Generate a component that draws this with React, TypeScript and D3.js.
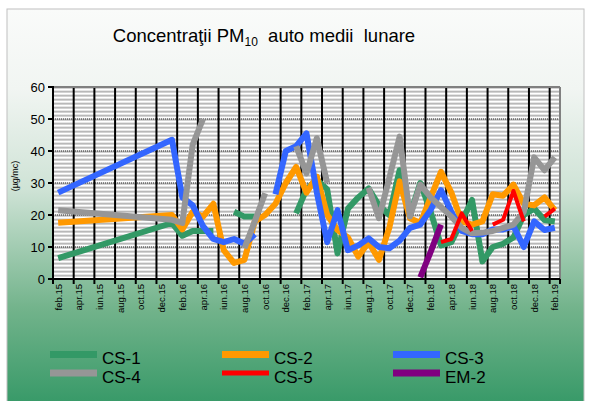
import React from 'react'
import * as d3 from 'd3'

// months on the category axis
const months = [
  'feb.15', 'mar.15', 'apr.15', 'mai.15', 'iun.15', 'iul.15', 'aug.15', 'sep.15', 'oct.15', 'noi.15', 'dec.15',
  'ian.16', 'feb.16', 'mar.16', 'apr.16', 'mai.16', 'iun.16', 'iul.16', 'aug.16', 'sep.16', 'oct.16', 'noi.16', 'dec.16',
  'ian.17', 'feb.17', 'mar.17', 'apr.17', 'mai.17', 'iun.17', 'iul.17', 'aug.17', 'sep.17', 'oct.17', 'noi.17', 'dec.17',
  'ian.18', 'feb.18', 'mar.18', 'apr.18', 'mai.18', 'iun.18', 'iul.18', 'aug.18', 'sep.18', 'oct.18', 'noi.18', 'dec.18',
  'ian.19', 'feb.19',
]
const shownMonths = [
  'feb.15', 'apr.15', 'iun.15', 'aug.15', 'oct.15', 'dec.15',
  'feb.16', 'apr.16', 'iun.16', 'aug.16', 'oct.16', 'dec.16',
  'feb.17', 'apr.17', 'iun.17', 'aug.17', 'oct.17', 'dec.17',
  'feb.18', 'apr.18', 'iun.18', 'aug.18', 'oct.18', 'dec.18', 'feb.19',
]
const yTicks = [0, 10, 20, 30, 40, 50, 60]

// n = no value (line breaks), s = month not plotted (line runs over it)
const n = null
const s = undefined

const cs1 = [6.5, s, s, s, s, s, s, s, s, s, s, 17.5, 13.5, 15, 15, 15, n, 21, 19.5, 19.5, n, n, n, 20.5,
  28, 31, 28, 8, 22, 25.5, 28.3, 23, 20, 34, 20, 30, 21, 10.5, 11.5, 18, 24.7, 5.5, 10, 11, 13, 20, 22, 18.4, 18]
const cs2 = [17.6, s, s, s, s, s, s, s, s, s, s, 20, 15.5, 21, 19.5, 23.5, 9, 5, 6, 18, 20, 23.5, 30, 35,
  27, 32, 20, 15.3, 13, 7, 11.5, 6, 16, 30.5, 19, 17.5, 25.5, 33.5, 27, 18, 17, 18, 26.5, 26, 29.5, 23.5, 23, 25.5, 21.5]
const cs3 = [27, s, s, s, s, s, s, s, s, s, s, 43.5, 25.5, 23, 16.5, 12.5, 11.5, 12.5, 11, 14, n, 26.5, 40, 41.5,
  45.5, 27, 11.5, 21.5, 9, 10.5, 12.7, 10, 9.6, 12, 16, 17, 21.6, 27.8, 21, 15, 14, 14, 15.5, 15.5, 16.5, 10, 18, 15.3, 16]
const cs4 = [21.5, s, s, s, s, s, s, s, s, s, s, 18.5, 17.5, 42, 50, n, n, n, 9.6, 18, 26.8, n, n, 41.5,
  33, 44, 30, n, n, n, 28.5, 19, 31.5, 44.5, 19.5, 29.5, 25.5, 22.5, 19.5, 16, 14.3, 14.5, 15, 16, 17, 21, 38, 34, 38]
const cs5 = [n, n, n, n, n, n, n, n, n, n, n, n, n, n, n, n, n, n, n, n, n, n, n, n,
  n, n, n, n, n, n, n, n, n, n, n, n, n, 11.5, 12.5, 20.5, 15, n, 17, 18.5, 27.5, 18, n, 19.5, 22]
const em2 = [n, n, n, n, n, n, n, n, n, n, n, n, n, n, n, n, n, n, n, n, n, n, n, n,
  n, n, n, n, n, n, n, n, n, n, n, 0.5, 8.5, 17, n, n, n, n, n, n, n, n, n, n, n]

const seriesNames = ['CS-1', 'CS-2', 'CS-3', 'CS-4', 'CS-5', 'EM-2']
const seriesValues = [cs1, cs2, cs3, cs4, cs5, em2]
const colors = ['#339966', '#ff9900', '#3366ff', '#969696', '#ff0000', '#800080']
const widths = [6, 6, 6, 6, 4, 6]

const W = 590
const H = 401
const plot = { left: 53, right: 560, top: 87, bottom: 279 }

export default function App() {
  const x = d3.scaleBand<string>().domain(months).range([plot.left, plot.right]).padding(0)
  const y = d3.scaleLinear().domain([0, 60]).range([plot.bottom, plot.top])
  const cx = (m: string) => (x(m) as number) + x.bandwidth() / 2

  const line = d3
    .line<{ m: string; v: number | null }>()
    .defined(d => d.v !== null)
    .x(d => cx(d.m))
    .y(d => y(d.v as number))

  // grid lines sit on the boundary between every second month
  const gridX = shownMonths.map(m => x(m) as number)

  const legendCols = [50, 222, 393]
  const legendRows = [354.5, 373]

  return (
    <svg
      width={W}
      height={H}
      style={{ position: 'absolute', left: 0, top: 0, fontFamily: 'Arial, "Liberation Sans", sans-serif' }}
    >
      <defs>
        <linearGradient id="bg" x1="0" y1="0" x2="0" y2="1">
          <stop offset="0" stopColor="#fafbfa" />
          <stop offset="0.2" stopColor="#f1f5f2" />
          <stop offset="0.45" stopColor="#cfe3d6" />
          <stop offset="0.75" stopColor="#72b38b" />
          <stop offset="1" stopColor="#349866" />
        </linearGradient>
        <pattern id="stripes" x="0" y={plot.top} width="8" height="4" patternUnits="userSpaceOnUse">
          <rect x="0" y="0" width="8" height="1" fill="#b8b8b8" />
          <rect x="0" y="1" width="8" height="1" fill="#d2d2d2" />
          <rect x="0" y="2" width="8" height="1" fill="#ffffff" />
          <rect x="0" y="3" width="8" height="1" fill="#e6e6e6" />
        </pattern>
        <clipPath id="plotClip">
          <rect x={plot.left} y={plot.top - 4} width={plot.right - plot.left} height={plot.bottom - plot.top + 4} />
        </clipPath>
      </defs>

      <rect x={7} y={9} width={577} height={400} fill="url(#bg)" stroke="#c0c0c0" strokeWidth={1} />

      <text x={264} y={42} textAnchor="middle" fontSize={18.5} style={{ whiteSpace: 'pre' }}>
        Concentraţii PM<tspan fontSize={12} dy={4}>10</tspan>
        <tspan dy={-4}>{'  auto medii  lunare'}</tspan>
      </text>

      {/* plot area */}
      <rect x={plot.left} y={plot.top} width={plot.right - plot.left} height={plot.bottom - plot.top} fill="url(#stripes)" />

      {yTicks.slice(1, -1).map(t => (
        <line key={t} x1={plot.left} x2={plot.right} y1={y(t)} y2={y(t)} stroke="#333" strokeWidth={1} strokeDasharray="1,1" />
      ))}
      {gridX.slice(1).map((gx, i) => (
        <line key={i} x1={gx} x2={gx} y1={plot.top} y2={plot.bottom} stroke="#000" strokeWidth={2} />
      ))}
      <line x1={plot.left} x2={plot.right} y1={plot.top} y2={plot.top} stroke="#808080" strokeWidth={2} />
      <line x1={plot.right} x2={plot.right} y1={plot.top} y2={plot.bottom} stroke="#808080" strokeWidth={2} />

      {/* series */}
      <g clipPath="url(#plotClip)">
        {seriesValues.map((vals, k) => {
          const pts = months
            .map((m, i) => ({ m, v: vals[i] as number | null | undefined }))
            .filter(d => d.v !== undefined) as { m: string; v: number | null }[]
          return (
            <path
              key={seriesNames[k]}
              d={line(pts) || ''}
              fill="none"
              stroke={colors[k]}
              strokeWidth={widths[k]}
              strokeLinejoin="round"
            />
          )
        })}
      </g>

      {/* axes */}
      <line x1={plot.left} x2={plot.left} y1={plot.top - 1} y2={plot.bottom + 1} stroke="#000" strokeWidth={2} />
      <line x1={plot.left - 1} x2={plot.right} y1={plot.bottom} y2={plot.bottom} stroke="#000" strokeWidth={2} />
      {yTicks.map(t => (
        <g key={t}>
          <line x1={plot.left - 5} x2={plot.left} y1={y(t)} y2={y(t)} stroke="#000" strokeWidth={2} />
          <text x={45} y={y(t) + 4.5} textAnchor="end" fontSize={13}>
            {t}
          </text>
        </g>
      ))}
      {[...gridX, plot.right].map((gx, i) => (
        <line key={i} x1={gx} x2={gx} y1={plot.bottom} y2={plot.bottom + 5} stroke="#000" strokeWidth={2} />
      ))}
      {shownMonths.map(m => (
        <text
          key={m}
          transform={`translate(${cx(m) + 3.5},${plot.bottom + 5}) rotate(-90)`}
          textAnchor="end"
          fontSize={9.5}
        >
          {m}
        </text>
      ))}
      <text transform={`translate(18,176) rotate(-90)`} textAnchor="middle" fontSize={9}>
        (µg/mc)
      </text>

      {/* legend */}
      {seriesNames.map((name, k) => {
        const col = legendCols[k % 3]
        const row = legendRows[Math.floor(k / 3)]
        return (
          <g key={name}>
            <line x1={col} x2={col + 47} y1={row} y2={row} stroke={colors[k]} strokeWidth={k === 4 ? 5 : 7} />
            <text x={col + 52} y={row + 9.5} fontSize={17}>
              {name}
            </text>
          </g>
        )
      })}
    </svg>
  )
}
